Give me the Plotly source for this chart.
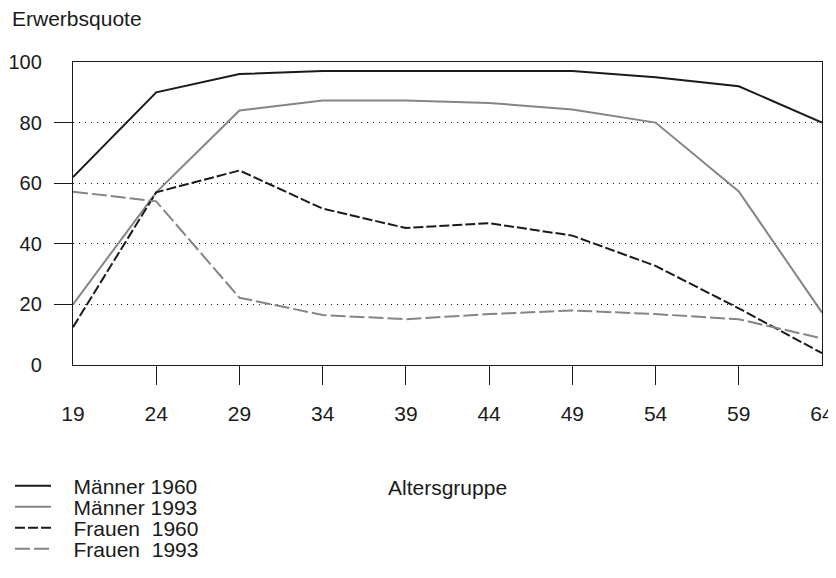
import plotly.graph_objects as go

ages = [19, 24, 29, 34, 39, 44, 49, 54, 59, 64]
maenner_1960 = [62, 90, 96, 97, 97, 97, 97, 95, 92, 80]
maenner_1993 = [20, 57, 84, 87.3, 87.3, 86.5, 84.3, 80, 57.3, 17.3]
frauen_1960 = [12.5, 57, 64.2, 51.6, 45.2, 46.8, 42.7, 32.7, 18.7, 3.9]
frauen_1993 = [57.2, 54, 22.2, 16.5, 15.1, 16.8, 18, 16.8, 15.1, 8.8]
y_ticks = [0, 20, 40, 60, 80, 100]

FONT = "Liberation Sans, Arial, sans-serif"
BLACK = "#1a1a1a"
GRAY = "#858585"

# the page body adds an 8px offset; positions below are in figure pixels
OFF = 8
W, H = 836 - OFF, 578 - 2 * OFF
L, R, T, B = 73 - OFF, 822 - OFF, 62 - OFF, 365 - OFF
PW, PH = R - L, B - T

PAD = "\u00a0\u00a0\u00a0"
fig = go.Figure()
fig.add_trace(go.Scatter(x=ages, y=maenner_1960, mode="lines", name=PAD + "Männer 1960",
                         line=dict(color=BLACK, width=2), legend="legend"))
fig.add_trace(go.Scatter(x=ages, y=maenner_1993, mode="lines", name=PAD + "Männer 1993",
                         line=dict(color=GRAY, width=2), legend="legend2"))
fig.add_trace(go.Scatter(x=ages, y=frauen_1960, mode="lines", name=PAD + "Frauen\u00a0 1960",
                         line=dict(color=BLACK, width=2, dash="10px,3px"), legend="legend3"))
fig.add_trace(go.Scatter(x=ages, y=frauen_1993, mode="lines", name=PAD + "Frauen\u00a0 1993",
                         line=dict(color=GRAY, width=2, dash="15px,4px"), legend="legend4"))


def leg(ypix):
    return dict(x=(10 - OFF - L) / PW, y=-(ypix - OFF - B) / PH,
                xanchor="left", yanchor="middle",
                font=dict(size=21, color=BLACK), itemwidth=36,
                bgcolor="rgba(0,0,0,0)")


fig.update_layout(
    width=W, height=H,
    margin=dict(l=L, r=W - R, t=T, b=H - B, autoexpand=False),
    plot_bgcolor="white", paper_bgcolor="white",
    font=dict(family=FONT, size=21, color=BLACK),
    showlegend=True,
    legend=leg(486), legend2=leg(507), legend3=leg(528), legend4=leg(549),
    xaxis=dict(range=[19, 64], tickvals=ages, ticktext=[str(a) for a in ages],
               ticks="outside", ticklen=19, tickcolor="rgba(0,0,0,0)",
               ticklabelstandoff=11, automargin=False,
               showline=True, mirror=True, linecolor=BLACK, linewidth=1.3,
               showgrid=False, zeroline=False, tickfont=dict(size=21)),
    yaxis=dict(range=[0, 100], tickvals=y_ticks, ticktext=[str(v) for v in y_ticks],
               ticks="outside", ticklen=18, tickcolor="rgba(0,0,0,0)",
               ticklabelstandoff=8, automargin=False,
               showline=True, mirror=True, linecolor=BLACK, linewidth=1.3,
               showgrid=True, gridcolor=BLACK, gridwidth=1.2, griddash="1.2px,4.8px",
               zeroline=False, tickfont=dict(size=20)),
    xaxis2=dict(overlaying="x", anchor="y", side="bottom", range=[19, 64],
                tickvals=ages[1:-1], ticks="outside", ticklen=19, tickwidth=1.3,
                tickcolor=BLACK, showticklabels=False, showline=False,
                showgrid=False, zeroline=False, automargin=False),
    yaxis2=dict(overlaying="y", anchor="x", side="left", range=[0, 100],
                tickvals=y_ticks[1:-1], ticks="outside", ticklen=18, tickwidth=1.3,
                tickcolor=BLACK, showticklabels=False, showline=False,
                showgrid=False, zeroline=False, automargin=False),
    annotations=[
        dict(text="Erwerbsquote", xref="paper", yref="paper",
             x=(10 - OFF - L) / PW, y=1 + (T - (18 - OFF)) / PH,
             xanchor="left", yanchor="middle",
             showarrow=False, font=dict(size=21)),
        dict(text="Altersgruppe", xref="paper", yref="paper",
             x=0.5, y=-(487 - OFF - B) / PH, xanchor="center", yanchor="middle",
             showarrow=False, font=dict(size=21)),
    ],
)
fig.add_trace(go.Scatter(x=[None], y=[None], xaxis="x2", yaxis="y2",
                         showlegend=False, hoverinfo="skip"))

fig.write_html("out.html")
